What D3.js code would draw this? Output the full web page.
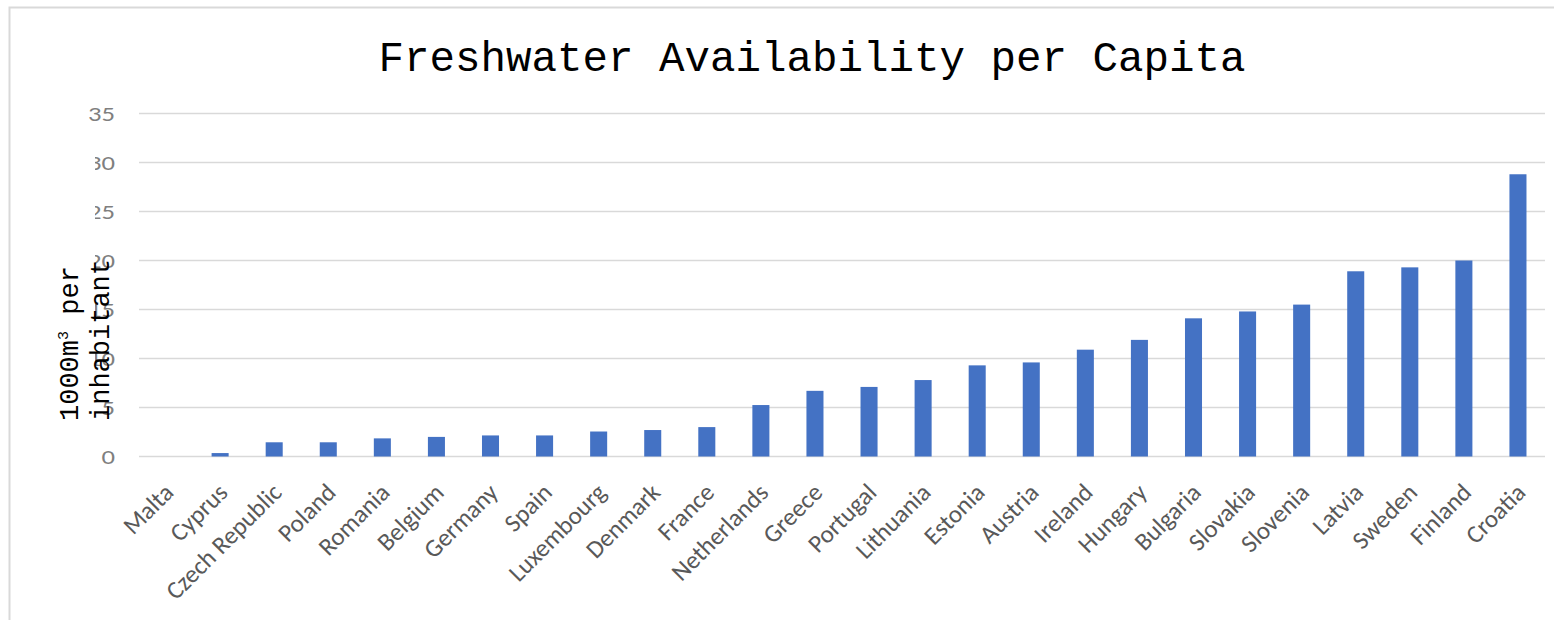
<!DOCTYPE html>
<html>
<head>
<meta charset="utf-8">
<script src="https://cdn.jsdelivr.net/npm/d3@7"></script>
<style>
  body { margin: 0; background: #fff; }
  svg { display: block; }
</style>
</head>
<body>
<div id="chart"></div>
<script>
// countries, sorted as in the source chart
var countries = ["Malta", "Cyprus", "Czech Republic", "Poland", "Romania", "Belgium",
  "Germany", "Spain", "Luxembourg", "Denmark", "France", "Netherlands", "Greece",
  "Portugal", "Lithuania", "Estonia", "Austria", "Ireland", "Hungary", "Bulgaria",
  "Slovakia", "Slovenia", "Latvia", "Sweden", "Finland", "Croatia"];
// 1000 m3 per inhabitant
var freshwater = [0, 0.35, 1.45, 1.45, 1.85, 2.0, 2.15, 2.15, 2.55, 2.7, 3.0, 5.25, 6.7,
  7.1, 7.8, 9.3, 9.6, 10.9, 11.9, 14.1, 14.8, 15.5, 18.9, 19.3, 20.0, 28.8];
var yTicks = [0, 5, 10, 15, 20, 25, 30, 35];

var W = 1554, H = 620;
const BAR_COLOR = "#4472c4",
  GRID_COLOR = "#d9d9d9",
  LABEL_COLOR = "#595959",
  TICK_COLOR = "#7f7f7f",
  MONO = "'Courier New', 'Liberation Mono', monospace",
  SANS = "Calibri, Carlito, 'Open Sans', sans-serif";

var data = countries.map(function(c, i) { return {name: c, value: freshwater[i]}; });

var svg = d3.select("#chart").append("svg")
  .attr("width", W)
  .attr("height", H);

svg.append("rect").attr("width", W).attr("height", H).attr("fill", "#fff");

// chart frame (runs off the right and bottom of the picture)
svg.append("rect")
  .attr("x", 9.5).attr("y", 7.5)
  .attr("width", W + 100).attr("height", H + 100)
  .attr("fill", "none")
  .attr("stroke", GRID_COLOR)
  .attr("stroke-width", 2);

var x = d3.scaleBand().domain(countries)
  .range([139, 1545])
  .paddingInner(0.685)
  .paddingOuter(0.3425);
var y = d3.scaleLinear().domain([0, 35]).range([456.5, 113.5]);

// gridlines
svg.append("g").selectAll("line")
  .data(yTicks)
  .enter().append("line")
  .attr("x1", 139).attr("x2", 1545)
  .attr("y1", function(d) { return y(d); })
  .attr("y2", function(d) { return y(d); })
  .attr("stroke", GRID_COLOR)
  .attr("stroke-width", 1.5);

// y tick labels (the source picture has them stretched sideways)
svg.append("g").selectAll("text")
  .data(yTicks)
  .enter().append("text")
  .attr("transform", function(d) { return "translate(115," + y(d) + ") scale(1.27,1)"; })
  .attr("dy", "0.35em")
  .attr("text-anchor", "end")
  .style("font-family", SANS)
  .style("font-size", "21px")
  .style("fill", TICK_COLOR)
  .text(function(d) { return d; });

// bars
svg.append("g").selectAll("rect")
  .data(data)
  .enter().append("rect")
  .attr("x", function(d) { return x(d.name); })
  .attr("width", x.bandwidth())
  .attr("y", function(d) { return y(d.value); })
  .attr("height", function(d) { return y(0) - y(d.value); })
  .attr("fill", BAR_COLOR);

// rotated category labels
svg.append("g").selectAll("text")
  .data(countries)
  .enter().append("text")
  .attr("transform", function(d) {
    var cx = x(d) + x.bandwidth() / 2 + 9;
    return "translate(" + cx + ",494) rotate(-45)";
  })
  .attr("text-anchor", "end")
  .style("font-family", SANS)
  .style("font-size", "25px")
  .style("fill", LABEL_COLOR)
  .text(function(d) { return d; });

// title
svg.append("text")
  .attr("x", 812).attr("y", 71)
  .attr("text-anchor", "middle")
  .style("font-family", MONO)
  .style("font-size", "42.5px")
  .style("fill", "#000")
  .text("Freshwater Availability per Capita");

// white box behind the axis title (it hides part of the tick labels in the source)
svg.append("rect")
  .attr("x", 12).attr("y", 132)
  .attr("width", 83).attr("height", 306)
  .attr("fill", "#fff");

var yTitle = svg.append("text")
  .attr("transform", "translate(78,421) rotate(-90)")
  .attr("text-anchor", "start")
  .style("font-family", MONO)
  .style("font-size", "27px")
  .style("fill", "#000");
yTitle.append("tspan").text("1000m");
yTitle.append("tspan").attr("dy", -10).style("font-size", "15px").text("3");
yTitle.append("tspan").attr("dy", 10).text(" per");
svg.append("text")
  .attr("transform", "translate(109,421) rotate(-90)")
  .attr("text-anchor", "start")
  .style("font-family", MONO)
  .style("font-size", "27px")
  .style("fill", "#000")
  .text("inhabitant");
</script>
</body>
</html>
